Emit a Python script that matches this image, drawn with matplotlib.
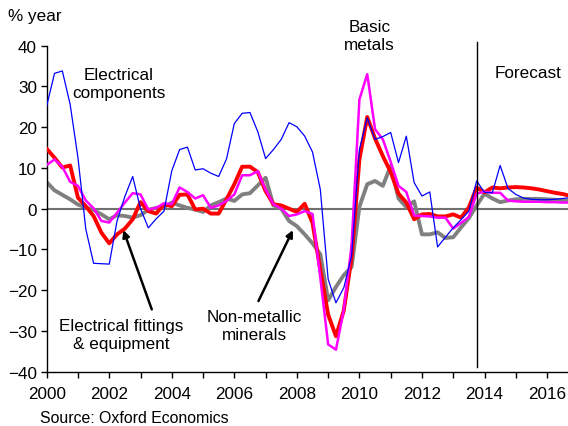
import numpy as np
import matplotlib
matplotlib.use("Agg")
import matplotlib.pyplot as plt

plt.rcParams['font.family'] = ['Liberation Sans', 'DejaVu Sans']

start_year = 2000.0
quarter = 0.25
forecast_start = 2013.75

elec_components = [25.2, 33.2, 33.8, 25.6, 12.5, -5.0, -13.4, -13.5, -13.6, -3.0,
                   3.0, 7.9, 0.0, -4.7, -2.5, -0.6, 9.3, 14.5, 15.1, 9.5,
                   9.8, 8.7, 7.9, 12.2, 20.9, 23.4, 23.6, 18.9, 12.3, 14.5,
                   17.0, 21.1, 20.1, 17.8, 13.9, 4.7, -17.3, -23.1, -19.4, -11.6,
                   14.5, 22.3, 17.0, 17.7, 18.7, 11.3, 17.8, 6.4, 3.1, 4.1,
                   -9.4, -7.0, -4.7, -2.7, -0.6, 6.8, 4.0, 3.9, 10.6, 5.0,
                   3.5, 2.6, 2.3, 2.2, 2.2, 2.3, 2.5, 2.7]

elec_fittings = [14.7, 12.5, 10.1, 10.6, 2.7, 0.6, -1.8, -5.9, -8.5, -6.3,
                 -4.9, -2.6, 1.6, -0.6, -1.2, 1.1, 0.6, 3.4, 3.5, -0.2,
                 0.0, -1.2, -1.2, 2.3, 6.0, 10.3, 10.3, 9.0, 4.3, 1.1,
                 0.8, 0.0, -0.8, 1.2, -3.5, -15.0, -26.0, -31.3, -25.0, -12.0,
                 12.1, 22.5, 17.2, 12.9, 9.0, 3.7, 1.5, -2.6, -1.4, -1.3,
                 -1.9, -1.9, -1.4, -2.2, 0.3, 5.2, 4.0, 5.2, 5.0, 5.2,
                 5.3, 5.2, 5.0, 4.7, 4.3, 3.9, 3.6, 3.1]

basic_metals = [10.7, 12.1, 10.3, 6.6, 5.6, 2.0, 0.1, -3.0, -3.4, -1.0,
                1.5, 3.8, 3.5, -0.2, 0.2, 1.3, 1.1, 5.2, 4.1, 2.5,
                3.3, 0.2, 0.8, 1.9, 3.5, 8.2, 8.2, 9.2, 4.7, 1.1,
                0.0, -1.8, -1.4, -0.6, -1.3, -17.0, -33.3, -34.6, -24.8, -9.0,
                26.8, 33.0, 19.5, 17.0, 11.5, 5.6, 4.1, -1.7, -1.8, -1.9,
                -2.2, -2.2, -4.9, -3.5, -2.0, 3.7, 4.2, 3.9, 3.9, 2.0,
                1.8, 1.7, 1.7, 1.7, 1.6, 1.6, 1.5, 1.5]

non_metallic = [6.5, 4.5, 3.4, 2.3, 1.0, 0.3, -0.3, -1.4, -2.6, -1.6,
                -1.8, -2.2, -1.6, -0.3, 0.2, 0.4, 1.5, 0.8, 0.2, -0.2,
                -0.8, 0.8, 1.6, 2.5, 1.9, 3.5, 3.8, 5.7, 7.6, 0.8,
                0.0, -3.0, -4.3, -6.3, -8.5, -11.2, -22.5, -19.2, -16.3, -14.3,
                0.5, 6.0, 6.8, 5.6, 10.5, 2.5, 0.4, 1.8, -6.3, -6.3,
                -5.8, -7.2, -7.0, -4.6, -2.3, 0.8, 3.7, 2.5, 1.6, 2.0,
                2.3, 2.4, 2.4, 2.4, 2.3, 2.2, 2.0, 1.9]

x = start_year + quarter * np.arange(len(elec_components))

fig = plt.figure(figsize=(5.68, 4.27), dpi=100)
ax = fig.add_axes([0.0822, 0.1272, 0.9178, 0.7635])

ax.axhline(0, color='#707070', lw=1.5, zorder=1)
ax.plot(x, elec_fittings, color='#FF0000', lw=2.8, zorder=3)
ax.plot(x, non_metallic, color='#808080', lw=2.8, zorder=2)
ax.plot(x, basic_metals, color='#FF00FF', lw=1.8, zorder=4)
ax.plot(x, elec_components, color='#0000FF', lw=0.9, zorder=5)

ax.axvline(forecast_start, ymin=0.015, ymax=1.012, color='black', lw=1.0,
           clip_on=False, zorder=6)

ax.set_xlim(2000, 2016.67)
ax.set_ylim(-40, 40)
ax.set_yticks(np.arange(-40, 41, 10))
ax.set_xticks(np.arange(2000, 2017, 2))
ax.set_xticks(np.arange(2000, 2017, 1), minor=True)
ax.tick_params(axis='both', which='both', direction='out', length=4, width=1,
               labelsize=12.3, color='black')
ax.tick_params(axis='x', pad=6)
ax.tick_params(axis='y', pad=3)
for s in ['top', 'right']:
    ax.spines[s].set_visible(False)
for s in ['left', 'bottom']:
    ax.spines[s].set_linewidth(1.0)

fs = 12.3
fig.text(8 / 568, 1 - 17 / 427, '% year', fontsize=fs, va='center', ha='left')
fig.text(40 / 568, 1 - 419 / 427, 'Source: Oxford Economics', fontsize=fs * 0.93,
         va='center', ha='left')

def data_xy(px, py):
    X = 2000 + (px - 46.7) / 31.25
    Y = (209.3 - py) / 4.075
    return X, Y

ax.text(*data_xy(119, 84), 'Electrical\ncomponents', fontsize=fs, ha='center',
        va='center', linespacing=1.3)
ax.text(*data_xy(369, 36), 'Basic\nmetals', fontsize=fs, ha='center',
        va='center', linespacing=1.3, clip_on=False)
ax.text(*data_xy(528, 73), 'Forecast', fontsize=fs, ha='center', va='center')
ax.text(*data_xy(121, 335), 'Electrical fittings\n& equipment', fontsize=fs,
        ha='center', va='center', linespacing=1.3)
ax.text(*data_xy(254, 326), 'Non-metallic\nminerals', fontsize=fs,
        ha='center', va='center', linespacing=1.3)

ax.annotate('', xy=data_xy(123.3, 230.7), xytext=data_xy(151.7, 310),
            arrowprops=dict(arrowstyle='-|>', color='black', lw=1.8,
                            mutation_scale=10, shrinkA=0, shrinkB=0))
ax.annotate('', xy=data_xy(292.7, 230.7), xytext=data_xy(258.3, 301.7),
            arrowprops=dict(arrowstyle='-|>', color='black', lw=1.8,
                            mutation_scale=10, shrinkA=0, shrinkB=0))

fig.savefig('out.png', dpi=100)
